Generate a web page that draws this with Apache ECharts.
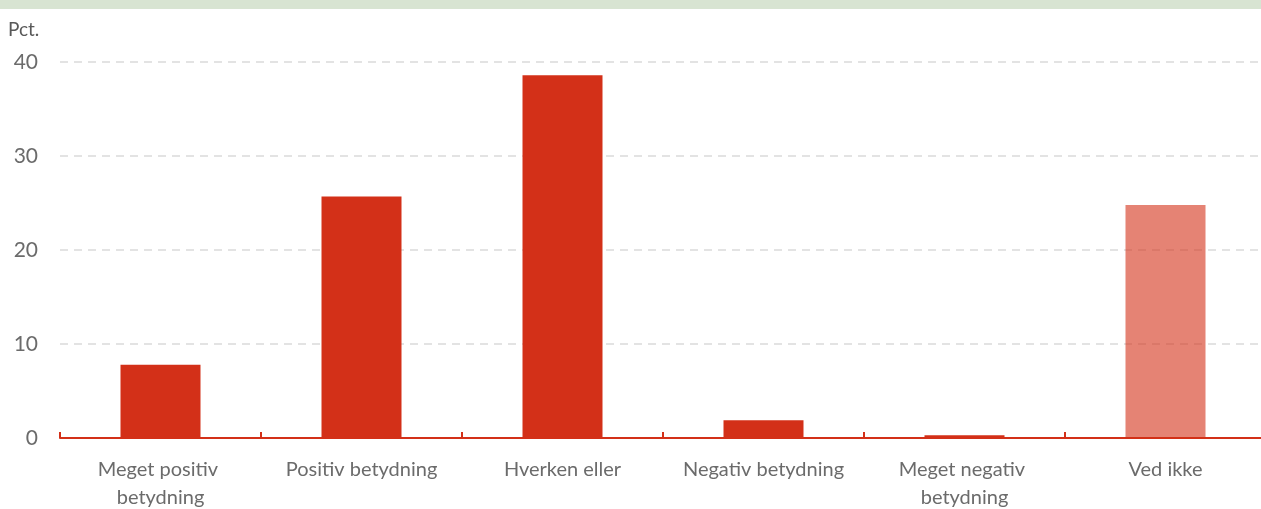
<!DOCTYPE html>
<html>
<head>
<meta charset="utf-8">
<script src="https://cdn.jsdelivr.net/npm/echarts@6/dist/echarts.min.js"></script>
<style>
  html, body { margin: 0; padding: 0; background: #fff; }
  #chart { width: 1261px; height: 509px; }
</style>
</head>
<body>
<div id="chart"></div>
<script>
var categories = ['Meget positiv betydning', 'Positiv betydning', 'Hverken eller',
    'Negativ betydning', 'Meget negativ betydning', 'Ved ikke'];
var values = [7.8, 25.7, 38.6, 1.9, 0.3, 24.8];
var yTicks = [0, 10, 20, 30, 40];

var red = '#d33018';
var font = 'Lato, "Open Sans", sans-serif';

var barData = values.map(function (v, i) {
    // "Ved ikke" er tegnet lysere
    return i === categories.length - 1 ? { value: v, itemStyle: { opacity: 0.6 } } : v;
});

var chart = echarts.init(document.getElementById('chart'));
chart.setOption({
    animation: false,
    textStyle: { fontFamily: font },
    graphic: [{
        type: 'rect',
        left: 0, top: 0,
        shape: { width: 1261, height: 9 },
        style: { fill: '#d8e4d2' }
    }, {
        type: 'text',
        left: 8, top: 20,
        style: { text: 'Pct.', fill: '#595959', font: '19px ' + font }
    }],
    grid: { left: 60, right: -5, top: 62, bottom: 71, outerBoundsMode: 'none', containLabel: false },
    xAxis: {
        type: 'category',
        data: categories,
        axisLine: { lineStyle: { color: red, width: 2 } },
        axisTick: { show: true, inside: true, length: 6, lineStyle: { color: red, width: 2 } },
        axisLabel: {
            color: '#6b6b6b', fontSize: 20, margin: 18, lineHeight: 28,
            width: 185, overflow: 'break', interval: 0
        }
    },
    yAxis: {
        type: 'value',
        min: yTicks[0], max: yTicks[yTicks.length - 1], interval: 10,
        axisLine: { show: false },
        axisTick: { show: false },
        axisLabel: { color: '#6b6b6b', fontSize: 21, margin: 22 },
        splitLine: { lineStyle: { color: '#e3e3e3', type: [8, 6], width: 2 } }
    },
    series: [{
        type: 'bar',
        data: barData,
        barWidth: 80,
        itemStyle: { color: red }
    }]
});
</script>
</body>
</html>
